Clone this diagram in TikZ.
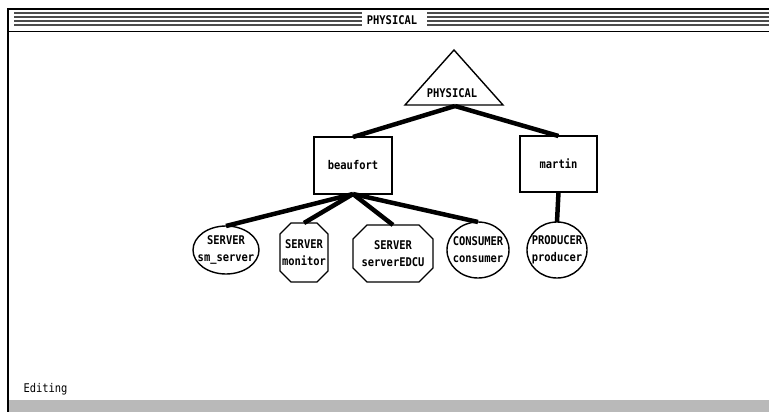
\documentclass[tikz,border=0pt]{standalone}
\usepackage{fontspec}
\newfontfamily\uifont[FakeStretch=0.87]{DejaVu Sans Mono}
\usetikzlibrary{shapes.geometric,calc}
\begin{document}
\begin{tikzpicture}[x=1pt,y=-1pt,
  txt/.style={font=\uifont\fontsize{12}{17}\selectfont\bfseries, text=black},
  conn/.style={line width=4.5pt},
  shp/.style={draw, line width=1.4pt, inner sep=0pt, outer sep=0pt},
  box/.style={shp, rectangle, txt},
  ell/.style={shp, ellipse},
  oct/.style={rectangle, inner sep=0pt, outer sep=0pt, txt, align=center},
  lab/.style={txt, align=center},
  stripe/.style={line width=1.6pt, gray!60!black}
]
\useasboundingbox (0,0) rectangle (769,412);
% window frame
\draw[line width=2pt] (8,412) -- (8,9) -- (769,9);
\foreach \yy in {13,17,21,25} {
  \draw[stripe] (14,\yy) -- (362,\yy);
  \draw[stripe] (427,\yy) -- (769,\yy);
}
\draw[line width=0.8pt] (8,31) -- (769,31);
\node[txt] (title) at (392,20) {PHYSICAL};
\fill[gray!55] (9,400) rectangle (769,412);
\node[txt, anchor=west, font=\uifont\fontsize{12}{14}\selectfont] (status) at (20,389) {Editing};
% triangle
\coordinate (ta) at (454,50);
\coordinate (tl) at (405,105);
\coordinate (tr) at (503,105);
\coordinate (tb) at (455,106);
\draw[shp, line join=miter] (ta) -- (tl) -- (tr) -- cycle;
\node[txt] (tri) at (452,93) {PHYSICAL};
% boxes
\node[box, minimum width=78pt, minimum height=57pt] (beau) at (353,165.5) {beaufort};
\node[box, minimum width=77pt, minimum height=56pt] (mar) at (558.5,164) {martin};
% leaves
\node[ell, minimum width=66pt, minimum height=48pt,
  label={[lab]center:SERVER\\sm\_server}] (sm) at (226,250) {};
\node[oct, minimum width=48pt, minimum height=59pt] (mon) at (304,252.5) {SERVER\\monitor};
\node[oct, minimum width=80pt, minimum height=57pt] (edcu) at (393,253.5) {SERVER\\serverEDCU};
\node[ell, minimum width=62pt, minimum height=56pt,
  label={[lab]center:CONSUMER\\consumer}] (cons) at (478,250) {};
\node[ell, minimum width=60pt, minimum height=56pt,
  label={[lab]center:PRODUCER\\producer}] (prod) at (557,250) {};
% octagon outlines
\foreach \n/\c in {mon/11,edcu/14} {
  \draw[shp, line join=miter]
    ([xshift=\c pt]\n.north west) -- ([xshift=-\c pt]\n.north east) --
    ([yshift=-\c pt]\n.north east) -- ([yshift=\c pt]\n.south east) --
    ([xshift=-\c pt]\n.south east) -- ([xshift=\c pt]\n.south west) --
    ([yshift=\c pt]\n.south west) -- ([yshift=-\c pt]\n.north west) -- cycle;
}
% connectors
\draw[conn] (tb) -- (beau.north);
\draw[conn] (tb) -- (mar.north);
\draw[conn] (beau.south) -- (sm.north);
\draw[conn] (beau.south) -- (mon.north);
\draw[conn] (beau.south) -- (edcu.north);
\draw[conn] (beau.south) -- (cons.north);
\draw[conn] (mar.south) -- (prod.north);
\end{tikzpicture}
\end{document}
